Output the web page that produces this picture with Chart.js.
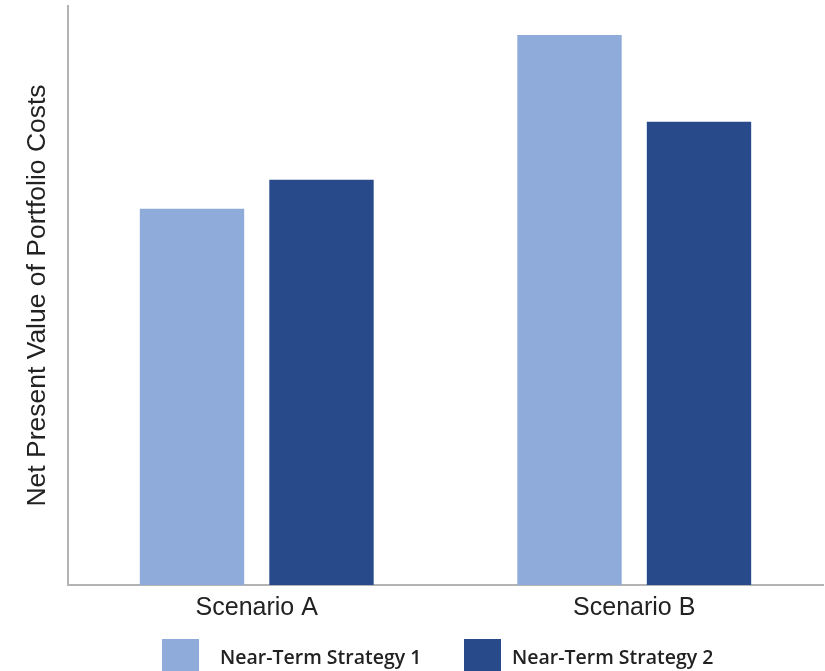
<!DOCTYPE html>
<html>
<head>
<meta charset="utf-8">
<script src="https://cdn.jsdelivr.net/npm/chart.js@4.4.1/dist/chart.umd.min.js"></script>
<style>
  html, body { margin: 0; padding: 0; background: #fff; }
  #wrap { width: 825px; height: 671px; }
</style>
</head>
<body>
<div id="wrap"><canvas id="chart" width="825" height="671"></canvas></div>
<script>
// relative NPV of portfolio costs per scenario
const scenarios = ['Scenario A', 'Scenario B'];
const strategy1 = [65, 95];
const strategy2 = [70, 80];
const seriesNames = ['Near-Term Strategy 1', 'Near-Term Strategy 2'];

const LIGHT = '#8eabd9';
const DARK = '#284a8b';
const AXIS = '#b3b3b3';
const TEXT = '#222';

// legend drawn by hand so the boxes and labels sit where we want them
const bottomLegend = {
  id: 'bottomLegend',
  afterDraw(chart) {
    const ctx = chart.ctx;
    const items = [
      { x: 162, gap: 21 },
      { x: 464, gap: 11 },
    ];
    ctx.save();
    ctx.font = '600 19.5px "Open Sans"';
    ctx.textBaseline = 'middle';
    chart.data.datasets.forEach((ds, i) => {
      const it = items[i];
      ctx.fillStyle = ds.backgroundColor;
      ctx.fillRect(it.x, 639, 37, 40);
      ctx.fillStyle = TEXT;
      ctx.fillText(ds.label, it.x + 37 + it.gap, 658);
    });
    ctx.restore();
  },
};

new Chart(document.getElementById('chart'), {
  type: 'bar',
  data: {
    labels: scenarios,
    datasets: [
      { label: seriesNames[0], data: strategy1, backgroundColor: LIGHT },
      { label: seriesNames[1], data: strategy2, backgroundColor: DARK },
    ],
  },
  options: {
    responsive: false,
    animation: false,
    layout: { padding: { top: 6, right: 2, bottom: 0, left: 0 } },
    categoryPercentage: 0.686,
    barPercentage: 0.806,
    plugins: {
      legend: { display: false },
      tooltip: { enabled: false },
    },
    scales: {
      x: {
        grid: { display: false },
        border: { display: true, color: AXIS, width: 2 },
        ticks: {
          color: TEXT,
          padding: 0,
          font: { family: '"Liberation Sans", Arial, sans-serif', size: 25 },
        },
        afterFit(axis) { axis.height = 86; },
      },
      y: {
        min: 0,
        max: 100,
        grid: { display: false },
        border: { display: true, color: AXIS, width: 2 },
        ticks: { display: false },
        title: {
          display: true,
          text: 'Net Present Value of Portfolio Costs',
          color: TEXT,
          padding: { top: 22, bottom: 0 },
          font: { family: '"Liberation Sans", Arial, sans-serif', size: 26.5 },
        },
        afterFit(axis) { axis.width = 68; },
      },
    },
  },
  plugins: [bottomLegend],
});
</script>
</body>
</html>
